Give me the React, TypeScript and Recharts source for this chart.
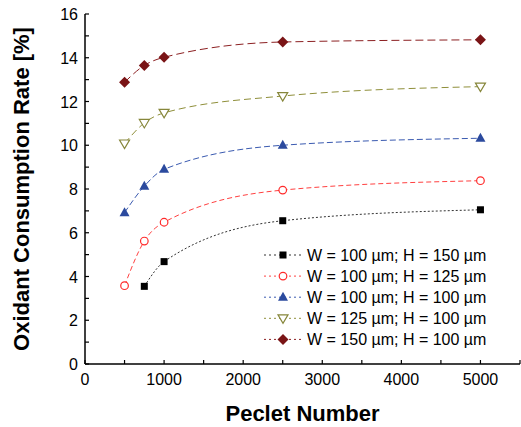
import { LineChart, Line, XAxis, YAxis } from "recharts";

const peclet = [500, 750, 1000, 2500, 5000];
const w100h150 = [null, 3.55, 4.68, 6.55, 7.05];
const w100h125 = [3.58, 5.62, 6.48, 7.95, 8.38];
const w100h100 = [6.92, 8.13, 8.9, 10.0, 10.32];
const w125h100 = [10.08, 11.02, 11.48, 12.25, 12.68];
const w150h100 = [12.88, 13.65, 14.02, 14.72, 14.82];

const xTicks = [0, 500, 1000, 1500, 2000, 2500, 3000, 3500, 4000, 4500, 5000, 5500];
const yTicks = [0, 1, 2, 3, 4, 5, 6, 7, 8, 9, 10, 11, 12, 13, 14, 15, 16];

const FONT = "'Liberation Sans', Arial, sans-serif";

type Marker = "square" | "circle" | "up" | "down" | "diamond";

const series: { key: string; name: string; color: string; lineColor: string; dash: string; marker: Marker; values: (number | null)[] }[] = [
  { key: "a", name: "W = 100 µm; H = 150 µm", color: "#000000", lineColor: "#333333", dash: "2 2", marker: "square", values: w100h150 },
  { key: "b", name: "W = 100 µm; H = 125 µm", color: "#ff2a2a", lineColor: "#ff4040", dash: "5 3", marker: "circle", values: w100h125 },
  { key: "c", name: "W = 100 µm; H = 100 µm", color: "#2b4a9e", lineColor: "#3a5ab0", dash: "6 3", marker: "up", values: w100h100 },
  { key: "d", name: "W = 125 µm; H = 100 µm", color: "#86863a", lineColor: "#8f8f3a", dash: "7 4", marker: "down", values: w125h100 },
  { key: "e", name: "W = 150 µm; H = 100 µm", color: "#7a1416", lineColor: "#8c2022", dash: "8 4", marker: "diamond", values: w150h100 },
];

const data = peclet.map((pe, i) => {
  const row: Record<string, number | null> = { pe };
  series.forEach((s) => {
    row[s.key] = s.values[i];
  });
  return row;
});

function drawMarker(marker: Marker, color: string, cx: number, cy: number, key?: string) {
  switch (marker) {
    case "square":
      return <rect key={key} x={cx - 3.5} y={cy - 3.5} width={7} height={7} fill={color} />;
    case "circle":
      return <circle key={key} cx={cx} cy={cy} r={3.8} fill="#fff" stroke={color} strokeWidth={1.2} />;
    case "up":
      return <polygon key={key} points={`${cx},${cy - 5.5} ${cx + 5},${cy + 3.5} ${cx - 5},${cy + 3.5}`} fill={color} />;
    case "down":
      return (
        <polygon key={key} points={`${cx - 5},${cy - 3.5} ${cx + 5},${cy - 3.5} ${cx},${cy + 5}`} fill="#fff" stroke={color} strokeWidth={1.2} />
      );
    default:
      return <polygon key={key} points={`${cx},${cy - 5.5} ${cx + 5.5},${cy} ${cx},${cy + 5.5} ${cx - 5.5},${cy}`} fill={color} />;
  }
}

function LeftTick(props: any) {
  const { x, y, payload } = props;
  const major = payload.value % 2 === 0;
  return (
    <g>
      <line x1={x + 7} x2={x + 11} y1={y} y2={y} stroke="#000" strokeWidth={1.2} />
      {major && (
        <text x={x} y={y} dy={6} textAnchor="end" fontSize={16} fontFamily={FONT} fill="#000">
          {payload.value}
        </text>
      )}
    </g>
  );
}

function BottomTick(props: any) {
  const { x, y, payload } = props;
  const major = payload.value % 1000 === 0;
  return (
    <g>
      <line x1={x} x2={x} y1={y - 7} y2={y - 11} stroke="#000" strokeWidth={1.2} />
      {major && (
        <text x={x} y={y} dy={14} textAnchor="middle" fontSize={16} fontFamily={FONT} fill="#000">
          {payload.value}
        </text>
      )}
    </g>
  );
}

function TopTick(props: any) {
  const { x, y } = props;
  return <line x1={x} x2={x} y1={y} y2={y + 4} stroke="#000" strokeWidth={1.2} />;
}

function RightTick(props: any) {
  const { x, y } = props;
  return <line x1={x} x2={x - 4} y1={y} y2={y} stroke="#000" strokeWidth={1.2} />;
}

function LegendBox() {
  return (
    <svg width={240} height={110} style={{ display: "block" }}>
      {series.map((s, i) => {
        const y = 8 + i * 21.1;
        return (
          <g key={s.key}>
            <line x1={2} x2={40} y1={y} y2={y} stroke={s.lineColor} strokeDasharray="2 3" strokeWidth={1} />
            {drawMarker(s.marker, s.color, 21, y)}
            <text x={45} y={y + 6} fontSize={16} fontFamily={FONT} fill="#000">
              {s.name}
            </text>
          </g>
        );
      })}
    </svg>
  );
}

export default function App() {
  return (
    <div style={{ position: "fixed", left: 0, top: 0, width: 521, height: 427, background: "#fff" }}>
      <LineChart width={521} height={427} data={data} margin={{ top: 14, right: 1, bottom: 0, left: 0 }}>
        <XAxis
          dataKey="pe"
          type="number"
          domain={[0, 5500]}
          ticks={xTicks}
          interval={0}
          height={63}
          tickSize={0}
          tickMargin={7}
          tick={<BottomTick />}
          axisLine={{ stroke: "#000", strokeWidth: 1.5 }}
          label={{
            content: ({ viewBox }: any) => (
              <text
                x={viewBox.x + viewBox.width / 2}
                y={viewBox.y + 57}
                textAnchor="middle"
                fontSize={22}
                fontWeight="bold"
                fontFamily={FONT}
                fill="#000"
              >
                Peclet Number
              </text>
            ),
          }}
        />
        <XAxis
          xAxisId="top"
          orientation="top"
          dataKey="pe"
          type="number"
          domain={[0, 5500]}
          ticks={xTicks}
          interval={0}
          height={0}
          tickSize={0}
          tickMargin={0}
          tick={<TopTick />}
          axisLine={{ stroke: "#000", strokeWidth: 1.5 }}
        />
        <YAxis
          type="number"
          domain={[0, 16]}
          ticks={yTicks}
          interval={0}
          width={85}
          tickSize={0}
          tickMargin={7}
          tick={<LeftTick />}
          axisLine={{ stroke: "#000", strokeWidth: 1.5 }}
          label={{
            content: ({ viewBox }: any) => {
              const cx = 21;
              const cy = viewBox.y + viewBox.height / 2;
              return (
                <text
                  x={cx}
                  y={cy}
                  transform={`rotate(-90 ${cx} ${cy})`}
                  textAnchor="middle"
                  dominantBaseline="central"
                  fontSize={22}
                  fontWeight="bold"
                  fontFamily={FONT}
                  fill="#000"
                >
                  Oxidant Consumption Rate [%]
                </text>
              );
            },
          }}
        />
        <YAxis
          yAxisId="right"
          orientation="right"
          type="number"
          domain={[0, 16]}
          ticks={yTicks}
          interval={0}
          width={0}
          tickSize={0}
          tickMargin={0}
          tick={<RightTick />}
          axisLine={{ stroke: "#000", strokeWidth: 1.5 }}
        />
        {series.map((s) => (
          <Line
            key={s.key}
            dataKey={s.key}
            name={s.name}
            type="monotone"
            stroke={s.lineColor}
            strokeWidth={1}
            strokeDasharray={s.dash}
            isAnimationActive={false}
            connectNulls
            dot={(p: any) =>
              p.value == null || p.cy == null ? <g key={p.index} /> : drawMarker(s.marker, s.color, p.cx, p.cy, `${s.key}-${p.index}`)
            }
            activeDot={false}
          />
        ))}
      </LineChart>
      <div style={{ position: "absolute", left: 262, top: 247 }}>
        <LegendBox />
      </div>
    </div>
  );
}
